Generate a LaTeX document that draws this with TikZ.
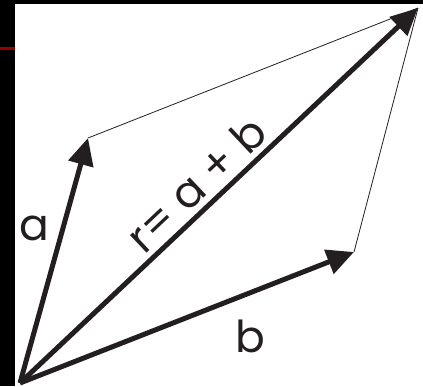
\documentclass[tikz,border=0pt]{standalone}
\usepackage{fontspec}
\setmainfont{Poppins}
\usetikzlibrary{arrows.meta}
\begin{document}
\begin{tikzpicture}[x=1pt,y=-1pt,
  vec/.style={line width=5pt,color={rgb,255:red,35;green,31;blue,32},-{Triangle[length=27pt,width=25pt]}},
  side/.style={line width=0.8pt,color={rgb,255:red,35;green,31;blue,32}},
  lbl/.style={font=\fontsize{44}{44}\selectfont, inner sep=0pt,text={rgb,255:red,35;green,31;blue,32}}]
\useasboundingbox (0,0) rectangle (423,386);
\fill[black] (0,0) rectangle (423,4);
\fill[black] (0,0) rectangle (15,386);
\fill[red!60!black] (0,47) rectangle (15,50);
\coordinate (O) at (20,383);
\coordinate (A) at (88,138);
\coordinate (B) at (354,252);
\coordinate (R) at (418,8);
\draw[side] (A) -- (R);
\draw[side] (B) -- (R);
\draw[vec] (O) -- (A);
\draw[vec] (O) -- (B);
\draw[vec] (O) -- (R);
\node[lbl] (la) at (34,228) {a};
\node[lbl] (lb) at (250,336) {b};
\node[lbl,rotate=43.3] (lr) at (196,184) {r= a + b};
\end{tikzpicture}
\end{document}
